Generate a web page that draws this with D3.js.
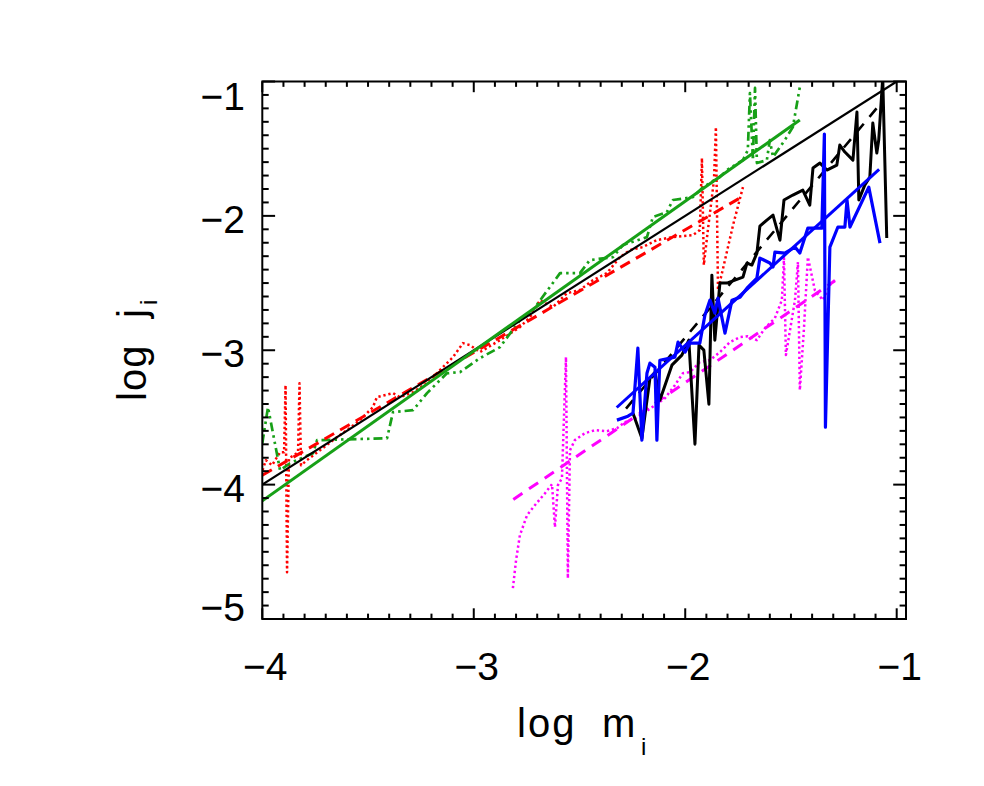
<!DOCTYPE html>
<html>
<head>
<meta charset="utf-8">
<script src="https://cdn.jsdelivr.net/npm/d3@7"></script>
<style>
  html, body { margin: 0; padding: 0; background: #fff; }
  svg { display: block; }
  text { font-family: "Liberation Sans", Arial, sans-serif; fill: #000; }
</style>
</head>
<body>
<svg id="chart" width="984" height="786"></svg>
<script>
// ---------------- data ----------------
const xTicks = [-4, -3, -2, -1];
const xTickLabels = ["\u22124", "\u22123", "\u22122", "\u22121"];
const yTicks = [-5, -4, -3, -2, -1];
const yTickLabels = ["\u22125", "\u22124", "\u22123", "\u22122", "\u22121"];
const xLabel = ["log", "m", "i"];
const yLabel = ["log", "j", "i"];

// red dotted data
const redX = [-3.999,-3.983,-3.954,-3.916,-3.897,-3.890,-3.883,-3.874,-3.850,-3.831,-3.824,-3.817,-3.789,-3.727,-3.647,-3.600,-3.538,-3.477,-3.458,-3.382,-3.349,-3.287,-3.221,-3.146,-3.098,-3.051,-3.018,-2.971,-2.876,-2.782,-2.734,-2.687,-2.626,-2.559,-2.498,-2.436,-2.370,-2.309,-2.261,-2.200,-2.134,-2.058,-1.964,-1.931,-1.921,-1.912,-1.893,-1.864,-1.855,-1.845,-1.812,-1.774,-1.727];
const redY = [-3.893,-3.818,-3.856,-3.759,-3.759,-3.260,-4.652,-3.803,-3.781,-3.759,-3.245,-3.856,-3.818,-3.744,-3.647,-3.595,-3.520,-3.424,-3.349,-3.319,-3.349,-3.312,-3.245,-3.126,-3.051,-2.947,-2.962,-3.014,-2.925,-2.828,-2.754,-2.627,-2.679,-2.575,-2.552,-2.478,-2.426,-2.307,-2.255,-2.232,-2.180,-2.158,-2.143,-2.106,-1.570,-2.366,-2.106,-1.733,-1.339,-2.552,-2.329,-2.069,-1.786];

// green dash-dot data
const greenX = [-4.000,-3.973,-3.916,-3.869,-3.760,-3.741,-3.410,-3.382,-3.287,-3.221,-3.127,-3.065,-2.971,-2.876,-2.782,-2.720,-2.592,-2.498,-2.451,-2.342,-2.295,-2.181,-2.153,-2.087,-2.058,-1.964,-1.916,-1.836,-1.803,-1.727,-1.704,-1.694,-1.680,-1.670,-1.661,-1.614,-1.600,-1.585,-1.529,-1.491,-1.458];
const greenY = [-3.692,-3.424,-3.893,-3.841,-3.766,-3.669,-3.655,-3.461,-3.446,-3.319,-3.171,-3.163,-3.059,-2.977,-2.776,-2.701,-2.426,-2.426,-2.329,-2.307,-2.217,-2.158,-2.009,-1.972,-1.882,-1.860,-1.786,-1.711,-1.659,-1.585,-1.510,-1.086,-1.585,-1.048,-1.607,-1.585,-1.436,-1.562,-1.436,-1.339,-1.041];

// black solid data
const blackX = [-2.247,-2.205,-2.167,-2.143,-2.120,-2.063,-2.016,-1.983,-1.954,-1.935,-1.912,-1.888,-1.874,-1.860,-1.836,-1.803,-1.765,-1.727,-1.708,-1.685,-1.661,-1.647,-1.614,-1.585,-1.552,-1.533,-1.491,-1.444,-1.411,-1.396,-1.363,-1.330,-1.283,-1.269,-1.245,-1.207,-1.188,-1.179,-1.151,-1.127,-1.113,-1.094,-1.085,-1.066,-1.047];
const blackY = [-3.468,-3.655,-3.208,-3.163,-3.372,-3.111,-3.036,-2.925,-3.699,-2.962,-2.999,-3.401,-2.441,-2.925,-2.500,-2.500,-2.478,-2.456,-2.351,-2.366,-2.277,-2.076,-2.031,-1.994,-2.181,-1.882,-1.845,-1.808,-1.920,-1.644,-1.607,-1.659,-1.622,-1.473,-1.525,-1.585,-1.227,-1.882,-1.771,-1.711,-1.309,-1.532,-1.436,-0.970,-2.165];

// blue solid data
const blueX = [-2.323,-2.271,-2.247,-2.224,-2.205,-2.181,-2.167,-2.143,-2.134,-2.120,-2.049,-2.034,-2.001,-1.978,-1.931,-1.907,-1.883,-1.860,-1.845,-1.812,-1.779,-1.741,-1.708,-1.661,-1.647,-1.600,-1.585,-1.576,-1.529,-1.481,-1.458,-1.420,-1.354,-1.342,-1.337,-1.316,-1.278,-1.245,-1.235,-1.221,-1.132,-1.079];
const blueY = [-3.520,-3.491,-3.468,-2.984,-3.669,-3.171,-3.096,-3.126,-3.669,-3.074,-3.051,-2.940,-3.014,-2.947,-2.947,-2.739,-2.627,-2.724,-2.612,-2.873,-2.627,-2.605,-2.538,-2.463,-2.314,-2.351,-2.381,-2.270,-2.277,-2.232,-2.277,-2.091,-2.091,-1.391,-3.573,-2.232,-2.083,-2.083,-1.882,-2.083,-1.786,-2.203];

// magenta dotted data
const magX = [-2.815,-2.800,-2.782,-2.748,-2.711,-2.663,-2.630,-2.616,-2.602,-2.583,-2.564,-2.555,-2.545,-2.522,-2.474,-2.427,-2.370,-2.323,-2.285,-2.238,-2.191,-2.143,-2.096,-2.049,-2.011,-1.978,-1.931,-1.883,-1.836,-1.789,-1.741,-1.704,-1.661,-1.623,-1.576,-1.543,-1.533,-1.524,-1.481,-1.467,-1.458,-1.439,-1.420,-1.387,-1.349,-1.316,-1.292];
const magY = [-4.771,-4.563,-4.377,-4.228,-4.153,-4.064,-3.997,-4.317,-4.004,-3.952,-3.051,-4.697,-3.744,-3.669,-3.617,-3.595,-3.602,-3.580,-3.535,-3.506,-3.461,-3.409,-3.357,-3.260,-3.171,-3.163,-3.089,-3.074,-3.014,-2.940,-2.902,-2.895,-2.925,-2.835,-2.761,-2.627,-2.314,-3.036,-2.627,-2.344,-3.297,-2.850,-2.307,-2.553,-2.627,-2.515,-2.478];

// straight-line fits (end points)
const fitOneX = [-4, -1],        fitOneY = [-4, -1];
const fitGreenX = [-4, -1.458],  fitGreenY = [-4.121, -1.287];
const fitRedX = [-4, -1.726],    fitRedY = [-3.93, -1.853];
const fitBlackX = [-2.28, -1.089], fitBlackY = [-3.434, -1.188];
const fitBlueX = [-2.324, -1.083], fitBlueY = [-3.426, -1.654];
const fitMagX = [-2.813, -1.292],  fitMagY = [-4.111, -2.483];

// ---------------- chart ----------------
const L = 262.3, R = 906, T = 81.5, B = 619;
const x = d3.scaleLinear().domain([-4, -0.956]).range([L, R]);
const y = d3.scaleLinear().domain([-5, -1]).range([B, T]);

const svg = d3.select("#chart");
svg.append("defs").append("clipPath").attr("id", "clip")
  .append("rect").attr("x", L).attr("y", T).attr("width", R - L).attr("height", B - T);

const zip = (xs, ys) => xs.map((v, i) => [v, ys[i]]);
const line = d3.line().x(d => x(d[0])).y(d => y(d[1]));
const plot = svg.append("g").attr("clip-path", "url(#clip)");

function draw(xs, ys, color, width, dash, cap) {
  plot.append("path")
    .attr("d", line(zip(xs, ys)))
    .attr("fill", "none")
    .attr("stroke", color)
    .attr("stroke-width", width)
    .attr("stroke-dasharray", dash || null)
    .attr("stroke-linecap", cap || "butt")
    .attr("stroke-linejoin", "round");
}
const GREEN = "#17a017";
draw(redX, redY, "#ff0000", 2.5, "2.3,2.8");
draw(greenX, greenY, GREEN, 2.7, "9,4,2.5,4,2.5,4");
draw(fitRedX, fitRedY, "#ff0000", 3, "11,7");
draw(fitOneX, fitOneY, "#000000", 2.2);
draw(fitGreenX, fitGreenY, GREEN, 3);
draw(magX, magY, "#ff00ff", 2.5, "2.3,2.8");
draw(fitMagX, fitMagY, "#ff00ff", 3, "11,8");
draw(blackX, blackY, "#000000", 3);
draw(fitBlackX, fitBlackY, "#000000", 2.6, "11,9");
draw(blueX, blueY, "#0000ff", 3.2);
draw(fitBlueX, fitBlueY, "#0000ff", 3);

// ---------------- axes (box with inward ticks) ----------------
const ax = svg.append("g").attr("stroke", "#000").attr("stroke-width", 2).attr("fill", "none");
ax.append("rect").attr("x", L).attr("y", T).attr("width", R - L).attr("height", B - T);

const xMinor = d3.range(-40, -9).map(v => v / 10);
const yMinor = d3.range(-50, -9).map(v => v / 10);
const isMajor = v => Math.abs(v - Math.round(v)) < 1e-6;
const xMaj = 10.7, yMaj = 12.8;
xMinor.forEach(v => {
  const len = isMajor(v) ? xMaj : xMaj / 2;
  const px = x(v);
  ax.append("line").attr("x1", px).attr("x2", px).attr("y1", B).attr("y2", B - len);
  ax.append("line").attr("x1", px).attr("x2", px).attr("y1", T).attr("y2", T + len);
});
yMinor.forEach(v => {
  const len = isMajor(v) ? yMaj : yMaj / 2;
  const py = y(v);
  ax.append("line").attr("x1", L).attr("x2", L + len).attr("y1", py).attr("y2", py);
  ax.append("line").attr("x1", R).attr("x2", R - len).attr("y1", py).attr("y2", py);
});

// tick labels
const FS = 39;
const digitH = 28;
xTicks.forEach((v, i) => {
  svg.append("text").attr("x", x(v) + 3).attr("y", 680)
    .attr("text-anchor", "middle").attr("font-size", FS).text(xTickLabels[i]);
});
yTicks.forEach((v, i) => {
  let c = y(v) + 3;
  c = Math.max(T + digitH / 2 + 0.5, Math.min(B - digitH / 2 + 1.5, c));
  svg.append("text").attr("x", 245).attr("y", c + digitH / 2)
    .attr("text-anchor", "end").attr("font-size", FS).text(yTickLabels[i]);
});

// axis titles
const xt = svg.append("text").attr("x", 517).attr("y", 737).attr("font-size", 40);
xt.append("tspan").attr("letter-spacing", 2).text(xLabel[0]);
xt.append("tspan").attr("x", 602).text(xLabel[1]);
xt.append("tspan").attr("x", 641).attr("dy", 18).attr("font-size", 24).text(xLabel[2]);

const yt = svg.append("text").attr("transform", "translate(146,400) rotate(-90)").attr("font-size", 40);
yt.append("tspan").attr("x", -1).attr("y", 0).attr("letter-spacing", 1).text(yLabel[0]);
yt.append("tspan").attr("x", 82).text(yLabel[1]);
yt.append("tspan").attr("x", 95).attr("dy", 11).attr("font-size", 24).text(yLabel[2]);
</script>
</body>
</html>
